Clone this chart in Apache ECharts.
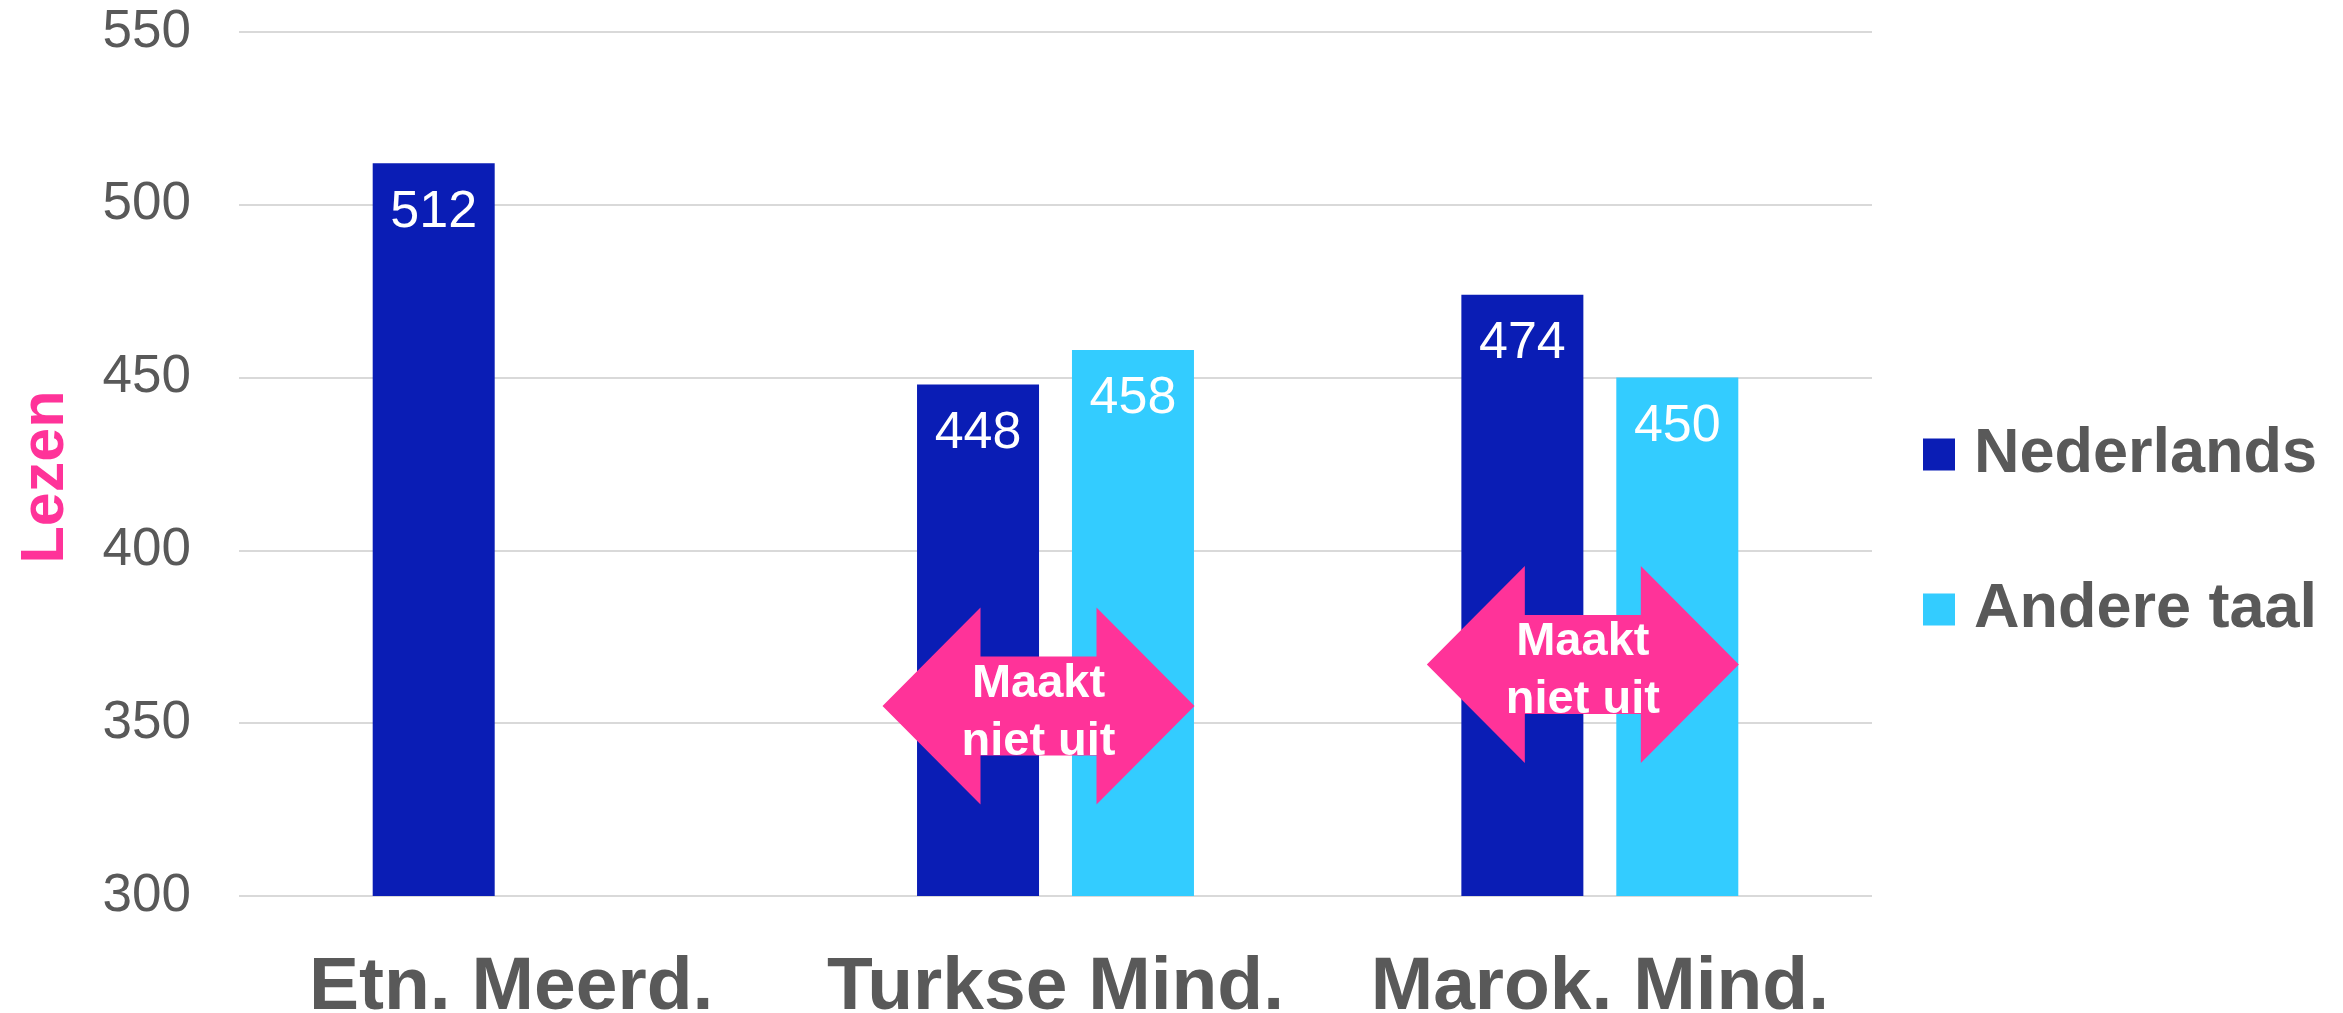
<!DOCTYPE html>
<html lang="nl">
<head>
    <meta charset="UTF-8">
    <title>Lezen</title>
    <script src="https://cdn.jsdelivr.net/npm/echarts@6/dist/echarts.min.js"></script>
    <style>
        html, body { margin: 0; padding: 0; background: #fff; }
    </style>
</head>
<body>
<div id="main" style="width: 2343px;height:1013px;"></div>

<script type="text/javascript">
    // data
    var categories = ['Etn. Meerd.', 'Turkse Mind.', 'Marok. Mind.'];
    var nederlands = [512, 448, 474];
    var andereTaal = [null, 458, 450];
    // "Maakt niet uit" arrows: category index and y level they sit at
    var arrowCats = [1, 2];
    var arrowLevels = [355, 367];

    var FONT = '"Liberation Sans", Arial, sans-serif';
    var GREY = '#595959';

    var myChart = echarts.init(document.getElementById('main'));

    var arrowData = [];
    arrowCats.forEach(function (c, i) {
        arrowData.push([c, arrowLevels[i]]);
    });

    function drawArrow(params, api) {
        var c = api.coord([api.value(0), api.value(1)]);
        var cx = c[0] - 17, cy = c[1];
        var hw = 156, hh = 98.5, sh = 49.5, head = 98;
        var pts = [
            [cx - hw, cy],
            [cx - hw + head, cy - hh],
            [cx - hw + head, cy - sh],
            [cx + hw - head, cy - sh],
            [cx + hw - head, cy - hh],
            [cx + hw, cy],
            [cx + hw - head, cy + hh],
            [cx + hw - head, cy + sh],
            [cx - hw + head, cy + sh],
            [cx - hw + head, cy + hh]
        ];
        return {
            type: 'group',
            children: [
                { type: 'polygon', shape: { points: pts }, style: { fill: '#FF3399' } },
                {
                    type: 'text', x: cx, y: cy + 7,
                    style: {
                        text: 'Maakt\nniet uit', fill: '#fff',
                        font: 'bold 47px ' + FONT,
                        align: 'center', verticalAlign: 'middle', lineHeight: 58
                    }
                }
            ]
        };
    }

    var barLabel = {
        show: true,
        position: 'insideTop',
        distance: 23,
        color: '#fff',
        fontSize: 52,
        fontFamily: FONT
    };

    myChart.setOption({
        animation: false,
        textStyle: { fontFamily: FONT },
        grid: { left: 239, right: 471, top: 32, bottom: 117, containLabel: false, outerBoundsMode: 'none' },
        legend: {
            data: ['Nederlands', 'Andere taal'],
            orient: 'vertical',
            left: 1923,
            top: 423,
            padding: 0,
            itemWidth: 32,
            itemHeight: 32,
            itemGap: 92,
            icon: 'rect',
            textStyle: { color: GREY, fontSize: 63, fontWeight: 'bold', lineHeight: 63, padding: [0, 0, 0, 14] }
        },
        xAxis: {
            type: 'category',
            data: categories,
            axisLine: { show: false },
            axisTick: { show: false },
            axisLabel: { color: GREY, fontSize: 75, fontWeight: 'bold', margin: 55, interval: 0 }
        },
        yAxis: {
            type: 'value',
            min: 300,
            max: 550,
            interval: 50,
            name: 'Lezen',
            nameLocation: 'middle',
            nameGap: 162,
            nameRotate: 90,
            nameTextStyle: { color: '#FF3399', fontSize: 61, fontWeight: 'bold', padding: [0, 26, 0, 0] },
            axisLine: { show: false },
            axisTick: { show: false },
            axisLabel: { color: GREY, fontSize: 53, margin: 48 },
            splitLine: { lineStyle: { color: '#D9D9D9', width: 2 } }
        },
        series: [
            {
                name: 'Nederlands',
                type: 'bar',
                data: nederlands,
                barWidth: 122,
                barGap: '27%',
                itemStyle: { color: '#0A1DB5' },
                label: barLabel
            },
            {
                name: 'Andere taal',
                type: 'bar',
                data: andereTaal,
                barWidth: 122,
                itemStyle: { color: '#33CCFF' },
                label: barLabel
            },
            {
                name: 'arrows',
                type: 'custom',
                renderItem: drawArrow,
                data: arrowData,
                z: 10,
                silent: true
            }
        ]
    });
</script>

</body>
</html>
